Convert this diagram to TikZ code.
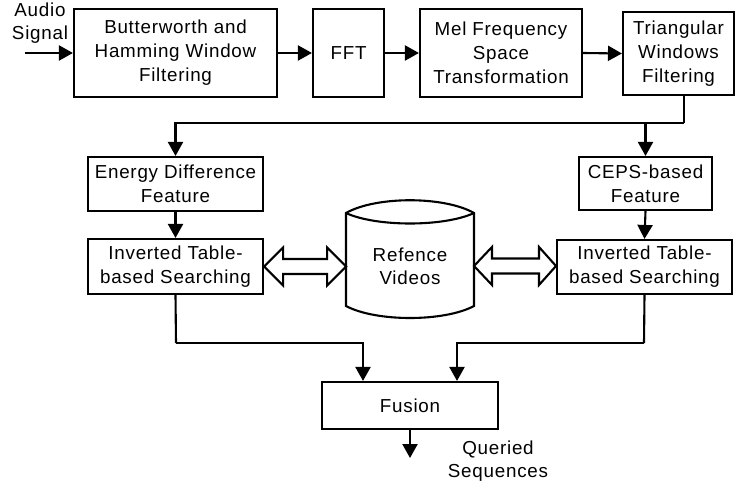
\documentclass[tikz,border=0pt]{standalone}
\usepackage{fontspec}
\setmainfont[LetterSpace=4]{Liberation Sans}
\usetikzlibrary{arrows.meta,calc}
\begin{document}
\begin{tikzpicture}[x=1pt,y=-1pt,
  box/.style={draw, line width=2.1pt, align=center, inner sep=0pt,
    font=\fontsize{18.8}{24}\selectfont},
  txt/.style={align=center, inner sep=0pt, font=\fontsize{18.8}{23}\selectfont},
  arr/.style={line width=2.1pt, -{Triangle[length=14pt,width=15pt]}},
  ln/.style={line width=2.1pt},
  hollow/.style={line width=2.1pt, line join=miter}]
\useasboundingbox (0,0) rectangle (739,489);

% top row
\node[box, minimum width=203pt, minimum height=88pt] (b1) at (175.5,53)
  {Butterworth and\\Hamming Window\\Filtering};
\node[box, minimum width=71pt, minimum height=88pt] (fft) at (348.5,53) {FFT};
\node[box, minimum width=162pt, minimum height=88pt] (mel) at (501,53)
  {Mel Frequency\\Space\\Transformation};
\node[box, minimum width=111pt, minimum height=83pt] (tri) at (678.5,53.5)
  {Triangular\\Windows\\Filtering};

\node[txt] (audio) at (40,23) {Audio\\Signal};
\coordinate (in) at (25,53);

\draw[arr] (in) -- (b1.west);
\draw[arr] (b1.east) -- (fft.west);
\draw[arr] (fft.east) -- (mel.west);
\draw[arr] (mel.east) -- (tri.west);

% feature boxes
\node[box, minimum width=175pt, minimum height=54pt] (energy) at (175.5,184)
  {Energy Difference\\Feature};
\node[box, minimum width=133pt, minimum height=53pt] (ceps) at (645.5,183.5)
  {CEPS-based\\Feature};
\node[box, minimum width=175pt, minimum height=55pt] (invL) at (175.5,266.5)
  {Inverted Table-\\based Searching};
\node[box, minimum width=175pt, minimum height=54pt] (invR) at (644.5,267)
  {Inverted Table-\\based Searching};

\coordinate (j1) at (684,123);
\draw[ln] ($(tri.south)+(5.5,0)$) -- (j1);
\draw[arr] (j1) -| (energy.north);
\draw[arr] (ceps.north |- j1) -- (ceps.north);
\draw[arr] (energy.south) -- (invL.north);
\draw[arr] (ceps.south) -- (invR.north);

% database cylinder
\node[txt, minimum width=128pt, minimum height=80pt, outer sep=0pt] (db) at (410,266)
  {Refence\\Videos};
\coordinate (dbtl) at ($(db.north west)+(0,-13)$);
\coordinate (dbtr) at ($(db.north east)+(0,-13)$);
\draw[ln] (db.south west) -- (dbtl)
  .. controls ($(dbtl)+(30,-17)$) and ($(dbtr)+(-30,-17)$) .. (dbtr)
  -- (db.south east)
  .. controls ($(db.south east)+(-30,16)$) and ($(db.south west)+(30,16)$) ..
  cycle;
\draw[ln] (dbtl) .. controls ($(dbtl)+(30,14)$) and ($(dbtr)+(-30,14)$) .. (dbtr);

% hollow double arrows
\draw[hollow] (invL.east) -- ++(19,-19) -- ++(0,11.5) -- ++(44,0) -- ++(0,-11.5)
  -- ++(19,19) -- ++(-19,19) -- ++(0,-11.5) -- ++(-44,0) -- ++(0,11.5) -- cycle;
\draw[hollow] (db.east) -- ++(18,-19) -- ++(0,11.5) -- ++(47,0) -- ++(0,-11.5)
  -- ++(17,19) -- ++(-17,19) -- ++(0,-11.5) -- ++(-47,0) -- ++(0,11.5) -- cycle;

% fusion
\node[box, minimum width=176pt, minimum height=47pt] (fusion) at (410,405.5) {Fusion};
\coordinate (j2) at (176,343);
\coordinate (j3) at (644,343);
\draw[ln] (invL.south) -- (j2);
\draw[arr] (j2) -| ($(fusion.north)+(-47,0)$);
\draw[ln] (invR.south) -- (j3);
\draw[arr] (j3) -| ($(fusion.north)+(47,0)$);

\coordinate (out) at (410,458);
\draw[arr] (fusion.south) -- (out);
\node[txt] (qs) at (498,461.5) {Queried\\Sequences};
\end{tikzpicture}
\end{document}
